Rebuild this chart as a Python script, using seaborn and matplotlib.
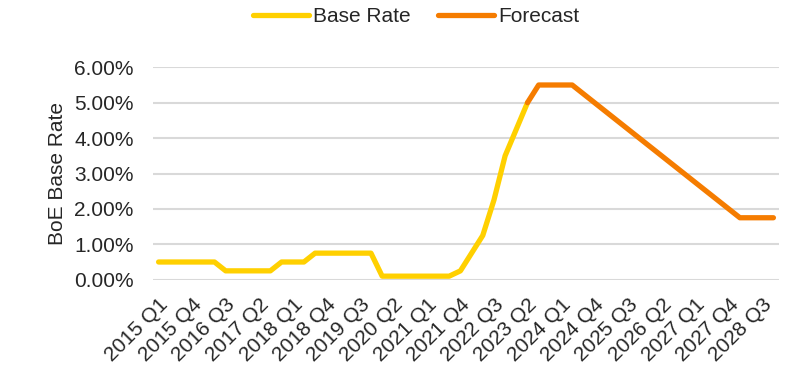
import matplotlib
matplotlib.use("Agg")
import matplotlib.pyplot as plt
import seaborn as sns
import numpy as np
import pandas as pd

years = list(range(2015, 2029))
quarters = [f"{y} Q{q}" for y in years for q in range(1, 5)]

base_rate = [0.5, 0.5, 0.5, 0.5, 0.5, 0.5,
             0.25, 0.25, 0.25, 0.25, 0.25,
             0.5, 0.5, 0.5,
             0.75, 0.75, 0.75, 0.75, 0.75, 0.75,
             0.1, 0.1, 0.1, 0.1, 0.1, 0.1, 0.1,
             0.25, 0.75, 1.25, 2.25, 3.5, 4.25, 5.0]
forecast_start = 33
forecast = [5.0, 5.5, 5.5, 5.5, 5.5,
            5.25, 5.0, 4.75, 4.5, 4.25, 4.0, 3.75, 3.5, 3.25, 3.0,
            2.75, 2.5, 2.25, 2.0, 1.75, 1.75, 1.75, 1.75]

yticks = [0, 1, 2, 3, 4, 5, 6]
tick_step = 3

YELLOW = "#FFD000"
ORANGE = "#F57C00"
GRID = "#D9D9D9"

sns.set_theme(style="white")
plt.rcParams['font.family'] = ['Liberation Sans', 'DejaVu Sans']

df_base = pd.DataFrame({"x": np.arange(len(base_rate)), "rate": base_rate})
df_fc = pd.DataFrame({"x": np.arange(forecast_start, forecast_start + len(forecast)), "rate": forecast})

fig = plt.figure(figsize=(7.93, 3.68), dpi=100)
ax = fig.add_axes([153/793, 1-279.7/368, (779-153)/793, (279.7-67.3)/368])

sns.lineplot(data=df_base, x="x", y="rate", ax=ax, color=YELLOW, lw=3.8,
             label="Base Rate", solid_capstyle="round", solid_joinstyle="round", zorder=3)
sns.lineplot(data=df_fc, x="x", y="rate", ax=ax, color=ORANGE, lw=3.8,
             label="Forecast", solid_capstyle="round", solid_joinstyle="round", zorder=4)

ax.set_xlim(-0.5, len(quarters) - 0.5)
ax.set_ylim(0, 6)
ax.set_yticks(yticks)
ax.set_yticklabels([f"{v:.2f}%" for v in yticks], fontsize=15)
xt = list(range(0, len(quarters), tick_step))
ax.set_xticks(xt)
ax.set_xticklabels([quarters[i] for i in xt], rotation=45, ha="right",
                   rotation_mode="anchor", fontsize=15)
ax.tick_params(axis="x", length=0, pad=11)
ax.tick_params(axis="y", length=0, pad=14)
ax.set_xlabel("")
ax.set_ylabel("BoE Base Rate", fontsize=15, labelpad=5)
ax.grid(axis="y", color=GRID, lw=1.5)
ax.grid(axis="x", visible=False)
for s in ax.spines.values():
    s.set_visible(False)
ax.set_axisbelow(True)

ax.get_legend().remove()
h, l = ax.get_legend_handles_labels()
fig.legend(h, l, loc="center", bbox_to_anchor=(416/793, 1-17/368), ncol=2,
           frameon=False, fontsize=15, handlelength=2.7, handletextpad=0.2,
           columnspacing=1.3, borderaxespad=0)

fig.savefig("out.png", dpi=100)
